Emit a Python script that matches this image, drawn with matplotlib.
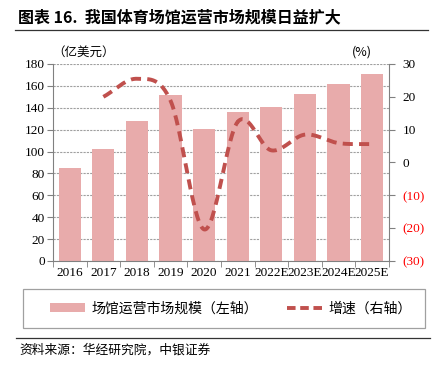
import numpy as np
import matplotlib
matplotlib.use('Agg')
import matplotlib.pyplot as plt
from matplotlib.patches import Patch, Rectangle
from matplotlib.lines import Line2D

plt.rcParams['font.family'] = ['Liberation Serif', 'Noto Sans CJK SC']

# data
years = ['2016', '2017', '2018', '2019', '2020', '2021', '2022E', '2023E', '2024E', '2025E']
scale = [85, 102, 128, 152, 121, 136, 141, 153, 162, 171]      # 亿美元
growth = [np.nan, 20.0, 25.5, 18.8, -20.4, 12.4, 3.7, 8.5, 5.9, 5.6]  # %

bar_color = '#E8ABAB'
line_color = '#C0504D'
cjk = ['Noto Sans CJK SC', 'DejaVu Sans']


def smooth(xs, ys, n=30):
    # catmull-rom curve through the points (Excel style smoothed line)
    xs = np.asarray(xs, float)
    ys = np.asarray(ys, float)
    px = np.concatenate([[2 * xs[0] - xs[1]], xs, [2 * xs[-1] - xs[-2]]])
    py = np.concatenate([[2 * ys[0] - ys[1]], ys, [2 * ys[-1] - ys[-2]]])
    ox, oy = [], []
    for i in range(1, len(px) - 2):
        t = np.linspace(0, 1, n)
        for p, out in ((px, ox), (py, oy)):
            p0, p1, p2, p3 = p[i - 1], p[i], p[i + 1], p[i + 2]
            out.extend(0.5 * ((2 * p1) + (-p0 + p2) * t
                              + (2 * p0 - 5 * p1 + 4 * p2 - p3) * t ** 2
                              + (-p0 + 3 * p1 - 3 * p2 + p3) * t ** 3))
    return np.array(ox), np.array(oy)


fig = plt.figure(figsize=(4.39, 3.71), dpi=100)
ax = fig.add_axes([0.1207, 0.2965, 0.7653, 0.531])
x = np.arange(len(years))

ax.bar(x, scale, width=0.66, color=bar_color, zorder=2)
ax.set_ylim(0, 180)
ax.set_yticks(range(0, 181, 20))
ax.set_xlim(-0.5, len(years) - 0.5)
ax.set_xticks(x)
ax.set_xticklabels(years)
ax.set_xticks(np.arange(-0.5, len(years)), minor=True)
ax.tick_params(axis='x', which='major', length=0, labelsize=9.5, pad=4)
ax.tick_params(axis='x', which='minor', length=4, direction='out', color='#808080')
ax.tick_params(axis='y', labelsize=9.5, length=4, color='#808080', pad=2)
ax.yaxis.grid(True, color='#A0A0A0', linewidth=0.8, linestyle=(0, (2, 1)), zorder=0)
ax.set_axisbelow(True)
for s in ['top', 'right']:
    ax.spines[s].set_visible(False)
for s in ['left', 'bottom']:
    ax.spines[s].set_color('#808080')

ax2 = ax.twinx()
gx = x[1:]
gy = np.array(growth[1:])
sx, sy = smooth(gx, gy)
ax2.plot(sx, sy, color=line_color, linewidth=2.8, linestyle=(0, (2.6, 1.6)), zorder=3)
ax2.set_ylim(-30, 30)
ax2.set_yticks(range(-30, 31, 10))
ax2.set_yticklabels(['(30)', '(20)', '(10)', '0', '10', '20', '30'])
for lab in ax2.get_yticklabels()[:3]:
    lab.set_color('red')
ax2.tick_params(axis='y', labelsize=9.5, length=4, color='#808080', pad=6)
for s in ['top', 'left', 'bottom']:
    ax2.spines[s].set_visible(False)
ax2.spines['right'].set_color('#808080')

# units
fig.text(0.118, 0.842, '（亿美元）', family=cjk, fontsize=9, ha='left', va='bottom')
fig.text(0.825, 0.842, '(%)', family=cjk, fontsize=9, ha='center', va='bottom')

# title
fig.text(0.041, 0.953, '图表 16.  我国体育场馆运营市场规模日益扩大', family=cjk,
         fontsize=11.5, fontweight='bold', ha='left', va='center')
fig.add_artist(Line2D([0.034, 0.975], [0.918, 0.918], color='#333333', linewidth=0.9))

# legend box and entries
fig.add_artist(Rectangle((0.052, 0.116), 0.916, 0.105, transform=fig.transFigure,
                         facecolor='none', edgecolor='#A0A0A0', linewidth=0.9))
handles = [Patch(facecolor=bar_color, edgecolor='none'),
           Line2D([], [], color=line_color, linewidth=2.8, linestyle=(0, (2.2, 1.2)))]
leg = fig.legend(handles, ['场馆运营市场规模（左轴）', '增速（右轴）'],
                 loc='center left', bbox_to_anchor=(0.115, 0.168),
                 ncol=2, frameon=False, borderpad=0, borderaxespad=0,
                 prop={'family': cjk, 'size': 10}, handlelength=2.5,
                 handleheight=0.6, handletextpad=0.45, columnspacing=2.1)

# source
fig.add_artist(Line2D([0.036, 0.98], [0.089, 0.089], color='#333333', linewidth=0.9))
fig.text(0.045, 0.057, '资料来源：华经研究院，中银证券', family=cjk, fontsize=9.2,
         style='italic', ha='left', va='center')

fig.savefig('out.png', dpi=100)
